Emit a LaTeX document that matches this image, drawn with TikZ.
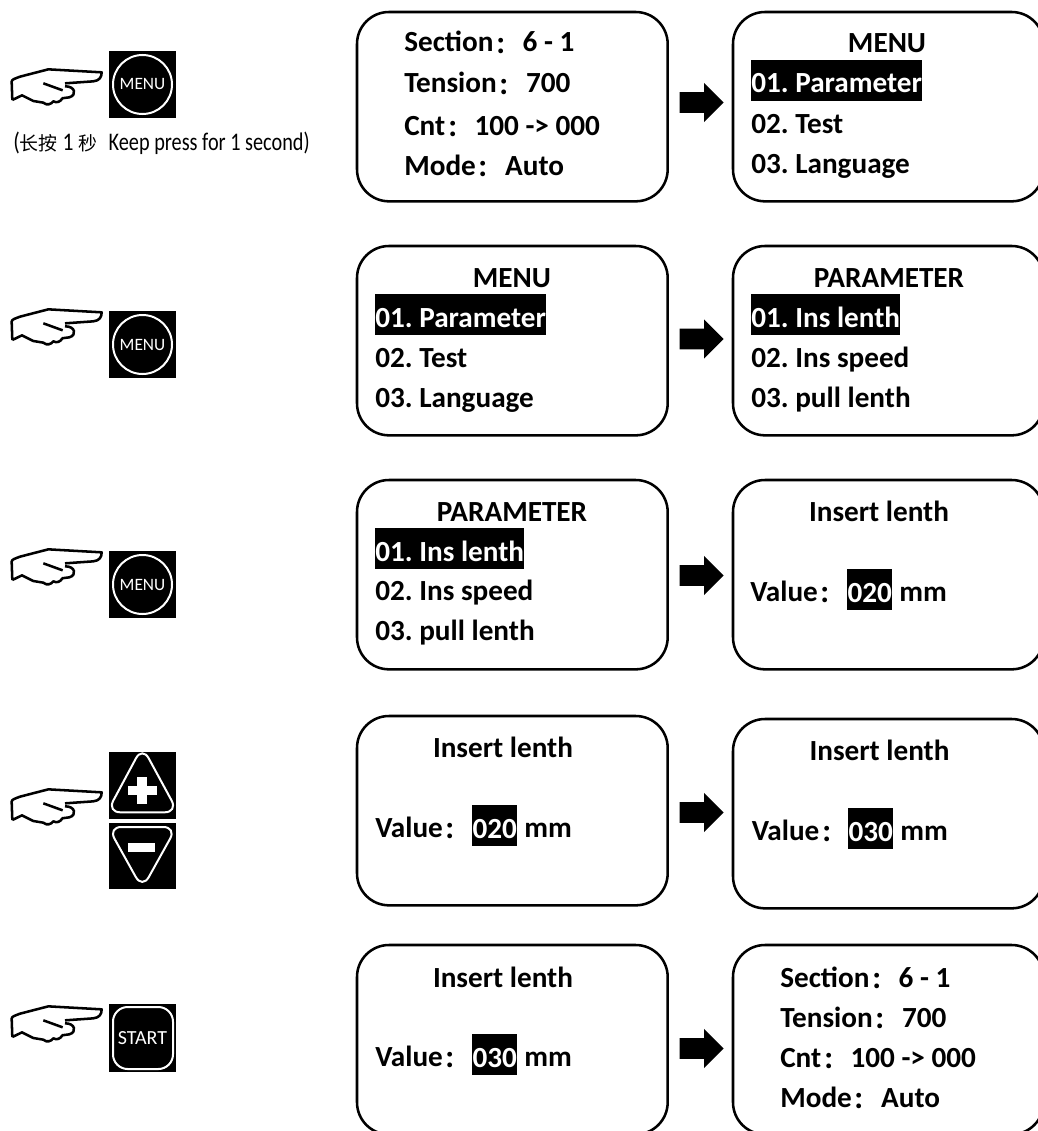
\documentclass[tikz,border=0pt]{standalone}
\usepackage{fontspec}
\usepackage{graphicx}
\usetikzlibrary{shapes.arrows}
\setmainfont{Carlito}
\newfontfamily\cjk{Noto Sans CJK SC}
\newcommand{\colonmark}{{\cjk\fontsize{17}{20}\selectfont\raisebox{-1pt}{\hspace{1.5pt}：\hspace{-1.5pt}}}}
\frenchspacing

\tikzset{
  screen/.style={draw=black, line width=1.9pt, rounded corners=24pt, anchor=north west, outer sep=0pt,
    minimum width=233pt, minimum height=142pt, inner sep=0pt},
  textline/.style={anchor=base west, inner sep=0pt, font=\fontsize{21.9}{24}\selectfont\bfseries},
  titleline/.style={anchor=base, inner sep=0pt, font=\fontsize{21.9}{24}\selectfont\bfseries},
  selected/.style={anchor=base west, inner xsep=0pt, inner ysep=0pt, fill=black, text=white,
    text height=24.7pt, text depth=6pt, font=\fontsize{21.9}{24}\selectfont\bfseries},
  nextarrow/.style={single arrow, fill=black, anchor=tip, inner xsep=0pt, inner ysep=7.5pt, minimum width=29pt, minimum height=33pt,
    single arrow head extend=7pt, single arrow head indent=0pt},
  keysquare/.style={fill=black, anchor=north west, inner sep=0pt, minimum width=50pt, minimum height=50pt},
  keyline/.style={draw=white, line width=1.5pt},
  hand/.pic={
    \begin{scope}[x=0.25pt,y=-0.25pt,line width=1.9pt,line join=round]
      \draw (37,240) -- (35,185) .. controls (35,178) and (45,176) .. (60,170) -- (145,148) -- (305,157)
        .. controls (305,172) and (298,182) .. (280,184) -- (195,190);
      \draw (130,190) -- (188,211);
      \draw (195,199) .. controls (225,198) and (232,225) .. (208,232) -- (185,235);
      \draw (37,240) -- (66,226) -- (100,243) -- (130,248) .. controls (140,258) and (155,252) .. (160,244)
        .. controls (170,250) and (182,245) .. (187,235);
    \end{scope}
  },
  menukey/.pic={
    \node[keysquare] (-sq) at (0,0) {};
    \draw[keyline] (33.5,33.5) circle (29.5);
    \node[text=white, font=\fontsize{13}{14}\selectfont, inner sep=0pt] (-lb) at (33.5,33.5) {MENU};
  },
}

\begin{document}
\begin{tikzpicture}[x=0.75pt,y=-0.75pt]
  \clip (0,0) rectangle (1038,1131);
  \fill[white] (0,0) rectangle (1038,1131);

  % Row 1:
  \pic at (0,20) {hand};
  \pic (menua) at (109,51) {menukey};
  \node[anchor=base west, inner sep=0pt] (notea) at (13,150) {\fontsize{19}{20}\selectfont \scalebox{.85}[1]{(}{\cjk\fontsize{14.2}{16}\selectfont 长按}\scalebox{.85}[1]{ 1 }{\cjk\fontsize{14.2}{16}\selectfont 秒}\ \ \scalebox{.80}[1]{Keep press for 1 second)}};
  \node[screen] (boxa) at (357,12) {};
  \node[textline] (a1) at (404,52) {Section\colonmark\ 6 - 1};
  \node[textline] (a2) at (404,93) {Tension\colonmark\ 700};
  \node[textline] (a3) at (404,135) {Cnt\colonmark\ 100 -> 000};
  \node[textline] (a4) at (404,175) {Mode\colonmark\ Auto};
  \node[nextarrow] (arrowa) at (724,102.5) {};
  \node[screen] (boxb) at (733,12) {};
  \node[titleline] (b1) at (887,53) {MENU};
  \node[selected] (b2) at (751,93) {01. Parameter};
  \node[textline] (b3) at (751,133) {02. Test};
  \node[textline] (b4) at (751,173) {03. Language};

  % Row 2:
  \pic at (0,260) {hand};
  \pic (menub) at (109,311) {menukey};
  \node[screen] (boxc) at (357,246) {};
  \node[titleline] (c1) at (512,287) {MENU};
  \node[selected] (c2) at (375,327) {01. Parameter};
  \node[textline] (c3) at (375,367) {02. Test};
  \node[textline] (c4) at (375,407) {03. Language};
  \node[nextarrow] (arrowb) at (724,339) {};
  \node[screen] (boxd) at (733,246) {};
  \node[titleline] (d1) at (889,287) {PARAMETER};
  \node[selected] (d2) at (751,327) {01. Ins lenth};
  \node[textline] (d3) at (751,367) {02. Ins speed};
  \node[textline] (d4) at (751,407) {03. pull lenth};

  % Row 3:
  \pic at (0,500) {hand};
  \pic (menuc) at (109,551) {menukey};
  \node[screen] (boxe) at (357,480) {};
  \node[titleline] (e1) at (512,521) {PARAMETER};
  \node[selected] (e2) at (375,561) {01. Ins lenth};
  \node[textline] (e3) at (375,600) {02. Ins speed};
  \node[textline] (e4) at (375,640) {03. pull lenth};
  \node[nextarrow] (arrowc) at (724,575.5) {};
  \node[screen] (boxf) at (733,480) {};
  \node[titleline] (f1) at (879,521) {Insert lenth};
  \node[textline] (f2) at (750,601) {Value\colonmark};
  \node[selected, minimum width=33.75pt] (f3) at (847,602) {020};
  \node[textline] (f4) at (899,601) {mm};

  % Row 4:
  \pic at (0,740) {hand};
  \node[keysquare] (plus) at (109,752) {};
  \draw[keyline, rounded corners=10pt] (142.3,746.5) -- (107,812.3) -- (178,812.3) -- cycle;
  \fill[white] (128,786) rectangle (157,795);
  \fill[white] (137.3,777) rectangle (147.3,804);
  \node[keysquare, minimum height=49pt] (minus) at (109,823) {};
  \draw[keyline, rounded corners=10pt] (108,827) -- (176.6,827) -- (142.3,888.7) -- cycle;
  \fill[white] (128,843) rectangle (155,852);
  \node[screen] (boxg) at (357,716) {};
  \node[titleline] (g1) at (503,757) {Insert lenth};
  \node[textline] (g2) at (375,837) {Value\colonmark};
  \node[selected, minimum width=33.75pt] (g3) at (472,838) {020};
  \node[textline] (g4) at (524,837) {mm};
  \node[nextarrow] (arrowd) at (724,812.5) {};
  \node[screen] (boxh) at (733,719) {};
  \node[titleline] (h1) at (879.5,760) {Insert lenth};
  \node[textline] (h2) at (751.5,840) {Value\colonmark};
  \node[selected, minimum width=33.75pt] (h3) at (848,841) {030};
  \node[textline] (h4) at (900,840) {mm};

  % Row 5:
  \pic at (0,957) {hand};
  \node[keysquare, minimum height=51pt] (start) at (109,1004) {};
  \draw[keyline, rounded corners=11pt] (113,1007) rectangle (173,1069);
  \node[text=white, font=\fontsize{15}{16}\selectfont, inner sep=0pt] (startlb) at (142.5,1038) {START};
  \node[screen] (boxi) at (357,945) {};
  \node[titleline] (i1) at (503,987) {Insert lenth};
  \node[textline] (i2) at (375,1066) {Value\colonmark};
  \node[selected, minimum width=33.75pt] (i3) at (472,1067) {030};
  \node[textline] (i4) at (524,1066) {mm};
  \node[nextarrow] (arrowe) at (724,1048.5) {};
  \node[screen] (boxj) at (733,945) {};
  \node[textline] (j1) at (780,987) {Section\colonmark\ 6 - 1};
  \node[textline] (j2) at (780,1027) {Tension\colonmark\ 700};
  \node[textline] (j3) at (780,1067) {Cnt\colonmark\ 100 -> 000};
  \node[textline] (j4) at (780,1107) {Mode\colonmark\ Auto};
\end{tikzpicture}
\end{document}
